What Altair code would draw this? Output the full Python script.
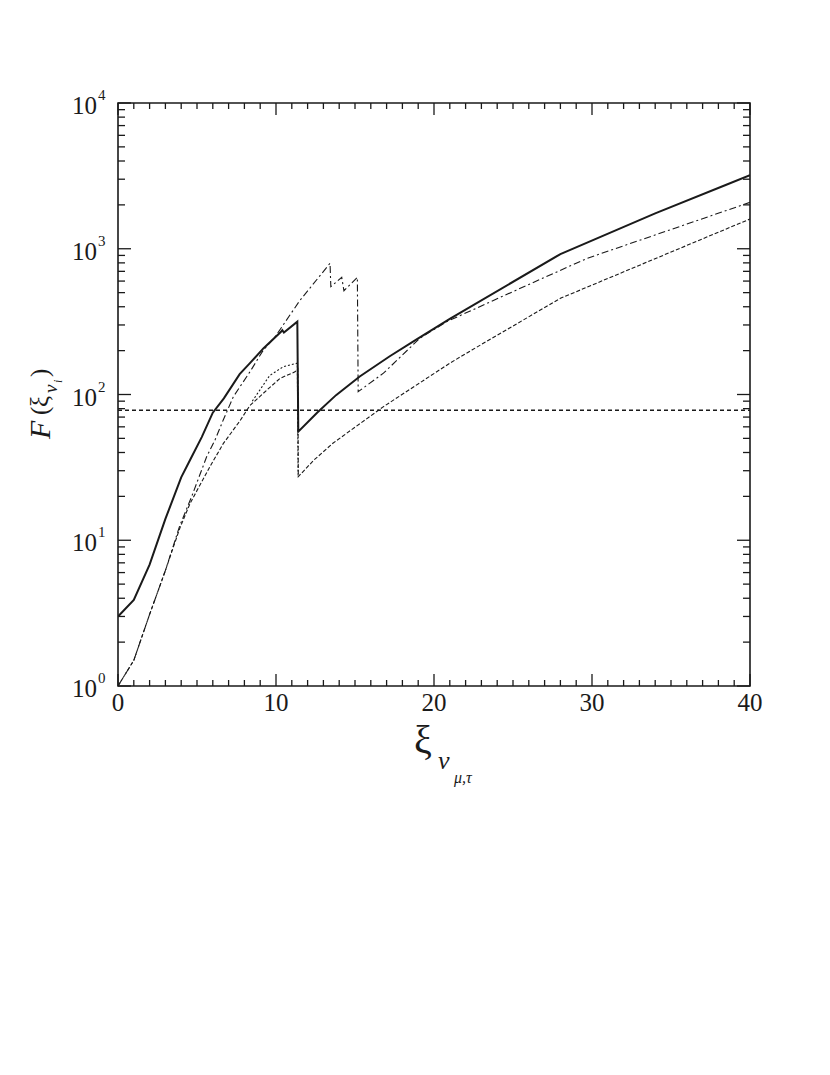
import altair as alt
import pandas as pd

# ---------------- data ----------------
solid_x = [0, 1, 2, 3, 4, 4.56, 5.3, 6.0, 6.7, 7.7, 8.35, 9.2, 10.3, 10.4, 10.5, 11.35, 11.41, 12.6, 13.8, 15.3, 17.2, 18.9, 21, 28, 34, 38.5, 40]
solid_y = [3.0, 3.9, 6.8, 14, 27, 35.5, 51, 75, 94, 138, 164, 207, 268, 276, 266, 316, 55.6, 75, 99, 133, 183, 239, 330, 920, 1750, 2750, 3200]

dashdot_x = [0, 1, 2, 3, 3.9, 4.66, 5.61, 6.14, 6.66, 7.3, 8.35, 9.2, 9.9, 11.5, 13.42, 13.47, 14.16, 14.3, 15.15, 15.2, 16.8, 19.1, 20.8, 25.2, 29.7, 40]
dashdot_y = [1.0, 1.5, 3.1, 6.2, 12.5, 19.9, 37.4, 48.7, 66.8, 96.6, 143, 202, 245, 440, 795, 549, 637, 515, 637, 104.5, 140, 243, 316, 520, 860, 2080]

dashed_x = [0, 1, 2, 3, 3.9, 4.56, 5.82, 6.66, 7.72, 8.35, 9.41, 10.25, 11.2, 11.38, 11.41, 12.4, 13.6, 16.8, 21, 22.4, 28, 40]
dashed_y = [1.0, 1.5, 3.1, 6.2, 12.0, 17.9, 32, 46, 66, 84, 107, 129, 143, 150, 27.3, 35.5, 46.3, 82.5, 164, 202, 457, 1600]

dotted_x = [8.5, 9.6, 10.46, 11.35, 11.4]
dotted_y = [90, 135, 155, 164, 27.3]

threshold_y = [78]

x_major = [0, 10, 20, 30, 40]
x_labels = ["0", "10", "20", "30", "40"]
x_minor = [v for v in range(1, 40) if v % 10 != 0]
y_major = [1, 10, 100, 1000, 10000]
y_exps = ["0", "1", "2", "3", "4"]
y_minor = [k * 10 ** d for d in range(4) for k in range(2, 10)]

# ---------------- layout ----------------
W, H = 632, 583
SERIF = "Liberation Serif"
INK = "#1a1a1a"
xs = alt.Scale(domain=[0, 40], nice=False, zero=False)
ys = alt.Scale(type="log", domain=[1, 10000], nice=False)
X = lambda f="x": alt.X(f"{f}:Q", scale=xs, axis=None)
Y = lambda f="y": alt.Y(f"{f}:Q", scale=ys, axis=None)


def series(xv, yv, width, dash=None):
    df = pd.DataFrame({"x": xv, "y": yv, "i": list(range(len(xv)))})
    kw = dict(color=INK, strokeWidth=width, clip=True)
    if dash:
        kw["strokeDash"] = dash
    return alt.Chart(df).mark_line(**kw).encode(x=X(), y=Y(), order="i:Q")


layers = []
layers.append(series(solid_x, solid_y, 2.0))
layers.append(series(dashdot_x, dashdot_y, 1.1, [7, 3, 2, 3]))
layers.append(series(dashed_x, dashed_y, 1.1, [4, 2]))
layers.append(series(dotted_x, dotted_y, 1.1, [2, 2]))

thr = pd.DataFrame({"y": threshold_y})
layers.append(
    alt.Chart(thr).mark_rule(color=INK, strokeWidth=1.4, strokeDash=[4, 3]).encode(
        y=Y(), x=alt.value(0), x2=alt.value(W)
    )
)

# ticks (inward, mirrored)
def xticks(vals, ln):
    df = pd.DataFrame({"x": vals})
    b = alt.Chart(df).mark_rule(color=INK, strokeWidth=1.3).encode(x=X(), y=alt.value(H), y2=alt.value(H - ln))
    t = alt.Chart(df).mark_rule(color=INK, strokeWidth=1.3).encode(x=X(), y=alt.value(0), y2=alt.value(ln))
    return [b, t]


def yticks(vals, ln):
    df = pd.DataFrame({"y": vals})
    l = alt.Chart(df).mark_rule(color=INK, strokeWidth=1.3).encode(y=Y(), x=alt.value(0), x2=alt.value(ln))
    r = alt.Chart(df).mark_rule(color=INK, strokeWidth=1.3).encode(y=Y(), x=alt.value(W), x2=alt.value(W - ln))
    return [l, r]


layers += xticks(x_major, 12) + xticks(x_minor, 6)
layers += yticks(y_major, 13) + yticks(y_minor, 7)

# tick labels
xl = pd.DataFrame({"x": x_major, "t": x_labels})
layers.append(
    alt.Chart(xl).mark_text(font=SERIF, fontSize=25, color=INK, baseline="middle", align="center").encode(
        x=X(), y=alt.value(H + 17), text="t:N"
    )
)
yl = pd.DataFrame({"y": y_major, "b": ["10"] * 5, "e": y_exps})
layers.append(
    alt.Chart(yl).mark_text(font=SERIF, fontSize=25, color=INK, baseline="middle", align="right", dy=3).encode(
        y=Y(), x=alt.value(-21), text="b:N"
    )
)
layers.append(
    alt.Chart(yl).mark_text(font=SERIF, fontSize=15, color=INK, baseline="middle", align="left", dy=-8).encode(
        y=Y(), x=alt.value(-20), text="e:N"
    )
)

# axis titles
def label(text, x, y, size, italic=False, angle=0, align="left"):
    df = pd.DataFrame({"t": [text]})
    kw = dict(font=SERIF, fontSize=size, color=INK, baseline="alphabetic", align=align)
    if italic:
        kw["fontStyle"] = "italic"
    if angle:
        kw["angle"] = angle
    return alt.Chart(df).mark_text(**kw).encode(x=alt.value(x), y=alt.value(y), text="t:N")


# x title: ξ_{ν_{μ,τ}}
layers.append(label("ξ", 296, 650, 40))
layers.append(label("ν", 320, 666, 26, italic=True))
layers.append(label("μ,τ", 336, 680, 16, italic=True))

# y title: F (ξ_{ν_i}) rotated
layers.append(label("F", -68, 336, 30, italic=True, angle=270))
layers.append(label("(", -70, 312, 25, angle=270))
layers.append(label("ξ", -70, 304, 25, angle=270))
layers.append(label("ν", -61, 290, 19, italic=True, angle=270))
layers.append(label("i", -56, 280, 12, italic=True, angle=270))
layers.append(label(")", -70, 274, 25, angle=270))

chart = (
    alt.layer(*layers)
    .properties(
        width=W,
        height=H,
        autosize=alt.AutoSizeParams(type="none"),
        padding={"left": 110, "top": 95, "right": 70, "bottom": 300},
    )
    .configure_view(stroke=INK, strokeWidth=1.6)
)

chart.save("out.html", embed_options={"renderer": "svg", "actions": False})
